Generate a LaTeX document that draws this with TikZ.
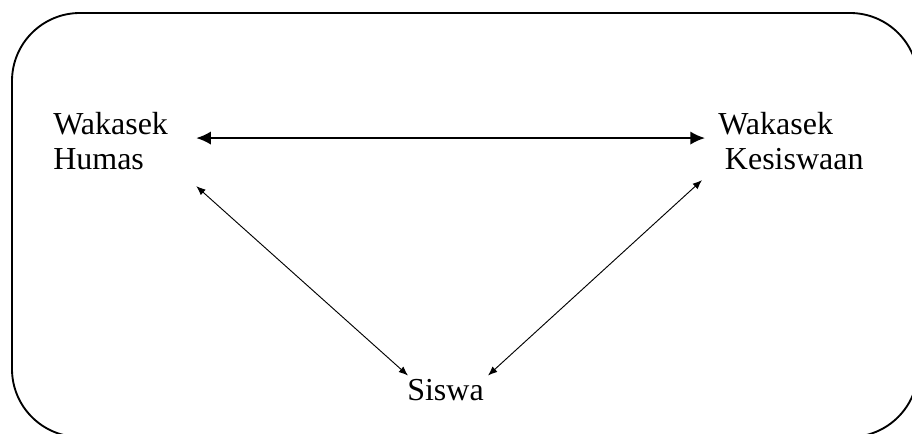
\documentclass[tikz,border=0pt]{standalone}
\usepackage{fontspec}
\setmainfont{Liberation Serif}
\usetikzlibrary{arrows.meta}
\tikzset{
  lbl/.style={inner sep=0pt, align=left, font=\fontsize{24}{26.3}\selectfont},
  biglink/.style={line width=1.5pt, {Latex[length=11pt,width=10pt]}-{Latex[length=11pt,width=10pt]}},
  link/.style={line width=0.7pt, {Latex[length=7pt,width=5.5pt]}-{Latex[length=7pt,width=5.5pt]}}
}
\begin{document}
\begin{tikzpicture}[x=0.75pt, y=-0.75pt]
    \useasboundingbox (0,0) rectangle (912,434);
    \clip (0,0) rectangle (912,434);
    % --- ramka ---
    \draw[line width=1.4pt, rounded corners=51pt] (12,13) rectangle (918,437);
    % --- bagian ---
    \node[lbl, anchor=north west] (humas) at (53,112) {Wakasek\\Humas};
    \node[lbl, anchor=north west] (kesiswaan) at (718,112) {Wakasek\\\hspace*{5pt}Kesiswaan};
    \node[lbl, anchor=base west] (siswa) at (407,400) {Siswa};
    % --- hubungan ---
    \draw[biglink] ([shift={(28,-3)}]humas.east) -- ([shift={(-13,-3)}]kesiswaan.west);
    \draw[link] ([shift={(28,16)}]humas.south east) -- ([shift={(1,-3)}]siswa.north west);
    \draw[link] ([shift={(4,-3)}]siswa.north east) -- ([shift={(-16,10)}]kesiswaan.south west);
  \end{tikzpicture}
\end{document}
